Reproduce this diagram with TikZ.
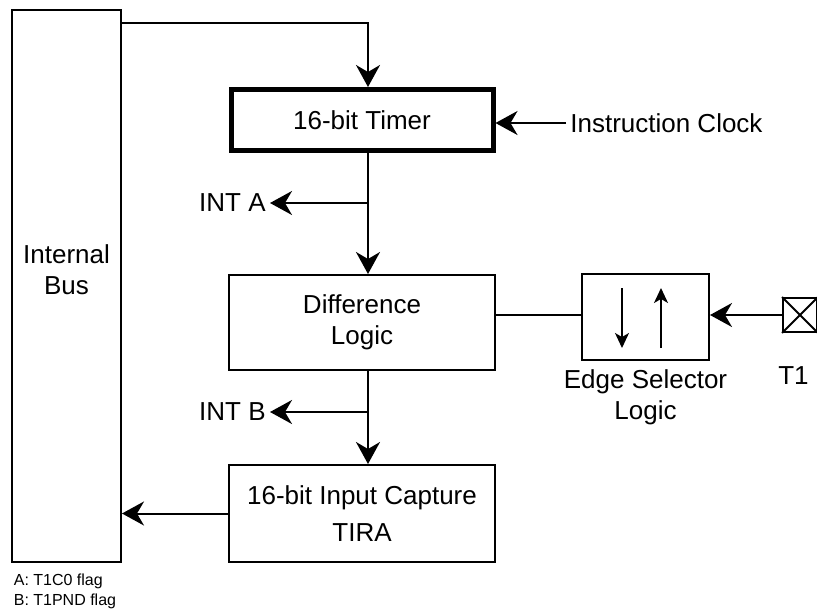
\documentclass[tikz,border=0pt]{standalone}
\usepackage{fontspec}
\setmainfont{Liberation Sans}
\usetikzlibrary{arrows.meta,positioning}

\begin{document}
\begin{tikzpicture}[x=1pt, y=-1pt, >={Stealth[length=22pt,width=24pt,inset=7pt]}, line width=2pt, font=\fontsize{26}{31}\selectfont]

%====Stili blocchi e frecce=================================================

	\tikzstyle{block}=[draw, rectangle, minimum width=266pt, align=center, inner sep=0pt]
	\tikzstyle{timerblock}=[block, line width=5pt, minimum width=262pt, minimum height=61pt]
	\tikzstyle{flag}=[font=\fontsize{16}{20}\selectfont, align=left]
	\tikzstyle{edgearrow}=[line width=1.5pt, -{Stealth[length=15pt,width=14pt,inset=4pt]}]

	\useasboundingbox (0,0) rectangle (817,611);
	\clip (0,0) rectangle (817,611);

%====Blocchi e posizione====================================================

	\node[draw, minimum width=109pt, minimum height=552pt] (bus) at (66.5,286) {};
	\node[align=center]                  (buslabel) at (66.5,270)  {Internal\\Bus};
	\node[timerblock]                    (timer)    at (362,120)   {16-bit Timer};
	\node[block, minimum height=95pt]    (diff)     at (362,322.5) {Difference\\Logic};
	\node[block, minimum height=97pt, font=\fontsize{26}{37}\selectfont]
	                                     (cap)      at (362,513.5) {16-bit Input Capture\\TIRA};
	\node[draw, minimum width=127pt, minimum height=86pt] (edge) at (645.5,317) {};
	\node[align=center] (edgelabel) [below=4pt of edge] {Edge Selector\\Logic};
	\node[draw, minimum size=34pt, inner sep=0pt] (pin) at (800,315) {};
	\node[anchor=west] (pinlabel) at (774,376) {T1};

	\node[anchor=west] (clock) at (566,123) {Instruction Clock};
	\node[anchor=east] (inta)  at (270,203) {INT A};
	\node[anchor=east] (intb)  at (270,412) {INT B};
	\node[flag, anchor=north west] (flags) at (9.5,570) {A: T1C0 flag\\B: T1PND flag};

	\coordinate (tap) at (368,23);

%====Collegamenti===========================================================

	\draw[->] (bus.east |- tap) -- (tap) -- (timer.north -| tap);
	\draw[->] (clock.west) -- (timer.east |- clock);
	\draw[->] (timer.south -| tap) -- (diff.north -| tap);
	\draw[->] (tap |- inta) -- (inta.east);
	\draw[->] (diff.south -| tap) -- (cap.north -| tap);
	\draw[->] (tap |- intb) -- (intb.east);
	\draw[->] (cap.west) -- (bus.east |- cap.west);
	\draw     (diff.east |- pin) -- (edge.west |- pin);
	\draw[->] (pin.west) -- (edge.east |- pin);
	\draw     (pin.north west) -- (pin.south east) (pin.south west) -- (pin.north east);

%====Frecce fronte==========================================================

	\draw[edgearrow] (622,288) -- (622,348);
	\draw[edgearrow] (661,348) -- (661,288);
\end{tikzpicture}
\end{document}
